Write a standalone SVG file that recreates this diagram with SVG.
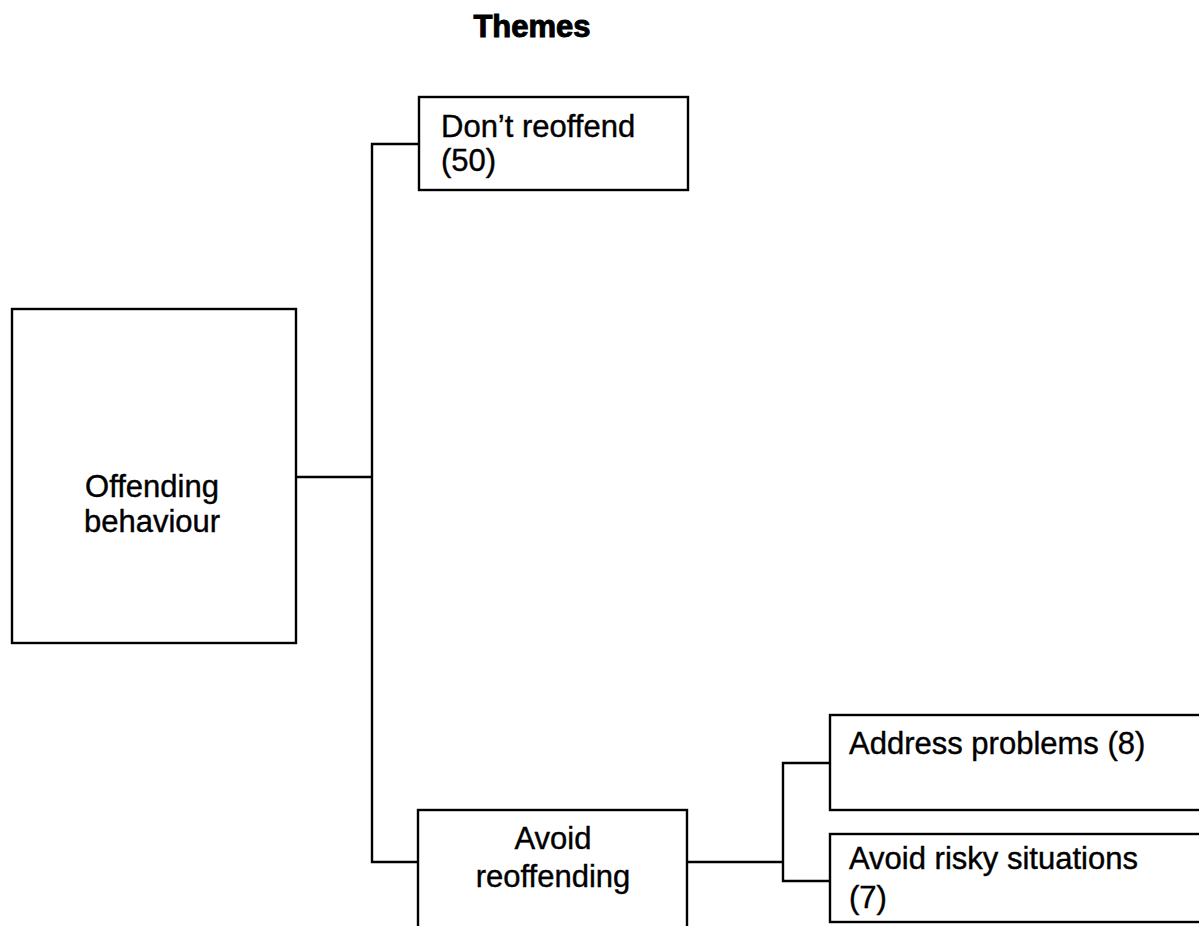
<svg xmlns="http://www.w3.org/2000/svg" width="1199" height="926" viewBox="0 0 1199 926">
  <style>
    .box { fill: #fff; stroke: #000; stroke-width: 2.4; }
    .wire { fill: none; stroke: #000; stroke-width: 2.4; }
    .lbl { font-family: "Liberation Sans", Arial, sans-serif; font-size: 31px; fill: #000; stroke: #000; stroke-width: 0.4; }
    .mid { text-anchor: middle; }
    .title { font-family: "Liberation Sans", Arial, sans-serif; font-size: 31px; font-weight: bold; fill: #000; stroke: #000; stroke-width: 1; text-anchor: middle; }
  </style>
  <rect x="0" y="0" width="1199" height="926" fill="#fff"/>

  <text class="title" x="532" y="37">Themes</text>

  <g id="connectors">
    <polyline class="wire" points="419,144 372,144 372,862 418,862"/>
    <line class="wire" x1="296" y1="477" x2="372" y2="477"/>
    <line class="wire" x1="687" y1="862" x2="783" y2="862"/>
    <polyline class="wire" points="830,763 783,763 783,881 830,881"/>
  </g>

  <g id="offending-behaviour">
    <rect class="box" x="12" y="309" width="284" height="334"/>
    <text class="lbl mid" x="152" y="497">Offending</text>
    <text class="lbl mid" x="152" y="532">behaviour</text>
  </g>

  <g id="dont-reoffend">
    <rect class="box" x="419" y="97" width="269" height="93"/>
    <text class="lbl" x="441" y="137">Don’t reoffend</text>
    <text class="lbl" x="441" y="171">(50)</text>
  </g>

  <g id="avoid-reoffending">
    <rect class="box" x="418" y="810" width="269" height="140"/>
    <text class="lbl mid" x="553" y="849">Avoid</text>
    <text class="lbl mid" x="553" y="887">reoffending</text>
  </g>

  <g id="address-problems">
    <rect class="box" x="830" y="715" width="390" height="95"/>
    <text class="lbl" x="849" y="754">Address problems (8)</text>
  </g>

  <g id="avoid-risky-situations">
    <rect class="box" x="830" y="834" width="390" height="88"/>
    <text class="lbl" x="849" y="869">Avoid risky situations</text>
    <text class="lbl" x="849" y="908">(7)</text>
  </g>
</svg>
